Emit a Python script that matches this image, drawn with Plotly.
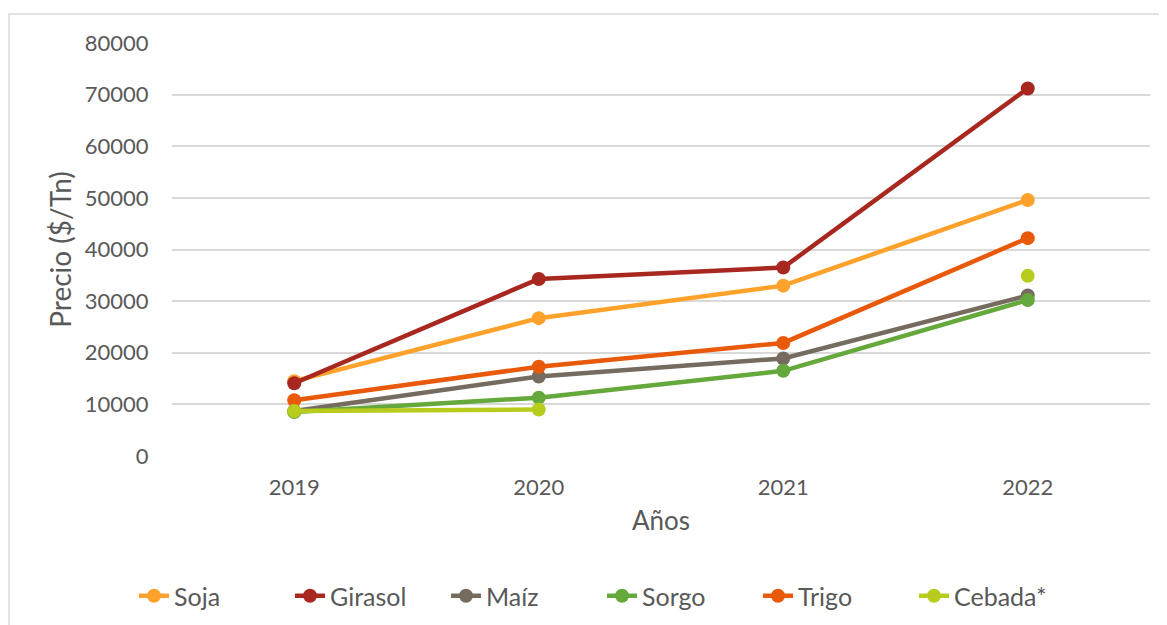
import plotly.graph_objects as go

years = ["2019", "2020", "2021", "2022"]
soja = [14500, 26700, 33000, 49600]
girasol = [14100, 34300, 36500, 71200]
maiz = [8700, 15400, 18900, 31100]
sorgo = [8500, 11300, 16500, 30200]
trigo = [10800, 17300, 21900, 42200]
cebada = [8700, 9000, None, 34900]

series_names = ["Soja", "Girasol", "Maíz", "Sorgo", "Trigo", "Cebada*"]
series_values = [soja, girasol, maiz, sorgo, trigo, cebada]
colors = ["#FFA22C", "#A8281F", "#756B5F", "#65A83B", "#E9590A", "#B8CC1E"]

FONT = "Lato"
TXT = "#595959"

fig = go.Figure()
for name, vals, col in zip(series_names, series_values, colors):
    fig.add_trace(go.Scatter(
        x=years, y=vals, name=name, mode="lines+markers",
        line=dict(color=col, width=4.5),
        marker=dict(color=col, size=14),
        connectgaps=False,
    ))

# page body has an 8px offset; figure coords = screen coords - 8
OFF = 8
W, H = 1167, 625
L, T = 172 - OFF, 43 - OFF
R = W - (1150 - OFF)
B = H - (456 - OFF)
pw = W - L - R
ph = H - T - B

def px_x(p):
    return (p - OFF - L) / pw

def px_y(p):
    return (H - B - (p - OFF)) / ph

fig.update_layout(
    width=W, height=H,
    margin=dict(l=L, r=R, t=T, b=B, autoexpand=False),
    paper_bgcolor="white", plot_bgcolor="white",
    font=dict(family=FONT, color=TXT, size=22),
    showlegend=True,
    legend=dict(orientation="h", xref="container", yref="container",
                x=(602 - OFF) / W, xanchor="center",
                y=1 - (596 - OFF) / H, yanchor="middle",
                font=dict(family=FONT, size=25, color=TXT),
                entrywidth=111, entrywidthmode="pixels",
                itemwidth=30, tracegroupgap=0),
    xaxis=dict(
        type="category", range=[-0.5, 3.5], automargin=False,
        showgrid=False, zeroline=False, showline=False,
        ticks="outside", ticklen=12, tickcolor="rgba(0,0,0,0)",
        tickfont=dict(family=FONT, size=22, color=TXT),
        title=dict(text="Años", font=dict(family=FONT, size=26, color=TXT), standoff=12),
    ),
    yaxis=dict(
        range=[0, 80000], dtick=10000, automargin=False,
        showgrid=True, gridcolor="#D9D9D9", gridwidth=1.5,
        zeroline=False, showline=False,
        ticks="outside", ticklen=18, tickcolor="rgba(0,0,0,0)",
        tickfont=dict(family=FONT, size=22, color=TXT),
        tickformat="d",
        title=dict(text="Precio ($/Tn)", font=dict(family=FONT, size=28, color=TXT), standoff=4),
    ),
    shapes=[dict(type="rect", xref="paper", yref="paper",
                 x0=px_x(9), x1=px_x(1160), y0=px_y(640), y1=px_y(14),
                 line=dict(color="#D9D9D9", width=1.5), fillcolor="rgba(0,0,0,0)",
                 layer="below")],
)

fig.write_html("out.html")
